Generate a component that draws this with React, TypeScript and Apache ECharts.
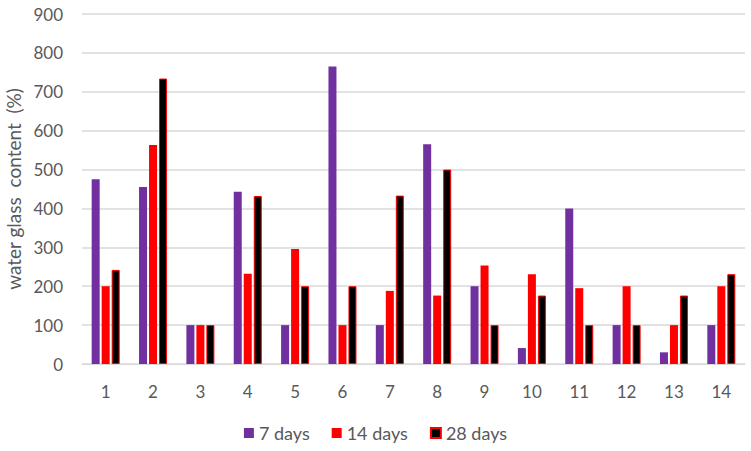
import React, { useEffect, useRef } from "react";
import * as echarts from "echarts";

const categories = ["1", "2", "3", "4", "5", "6", "7", "8", "9", "10", "11", "12", "13", "14"];
const days7 = [475, 455, 100, 443, 100, 765, 100, 565, 200, 41, 400, 100, 30, 100];
const days14 = [200, 563, 100, 232, 296, 100, 188, 176, 253, 231, 195, 200, 100, 200];
const days28 = [242, 734, 100, 432, 200, 200, 433, 500, 100, 176, 100, 100, 176, 231];
const seriesNames = ["7 days", "14 days", "28 days"];

export default function App() {
  const ref = useRef<HTMLDivElement>(null);
  useEffect(() => {
    if (!ref.current) return;
    const chart = echarts.init(ref.current, null, { renderer: "svg" });
    const font = "Lato, 'Open Sans', sans-serif";
    const txt = "#595959";
    chart.setOption({
      animation: false,
      backgroundColor: "#ffffff",
      textStyle: { fontFamily: font },
      grid: {
        left: 82,
        right: 6,
        top: 14,
        bottom: 87,
        containLabel: false,
        outerBoundsMode: "none",
      },
      legend: {
        bottom: 4,
        left: "center",
        itemWidth: 10,
        itemHeight: 10,
        itemGap: 22,
        icon: "rect",
        textStyle: { fontSize: 18, color: txt, fontFamily: font },
        data: seriesNames,
      },
      xAxis: {
        type: "category",
        data: categories,
        axisTick: { show: false },
        axisLine: { lineStyle: { color: "#d9d9d9", width: 1 } },
        axisLabel: { fontSize: 17, color: txt, margin: 19, fontFamily: font },
      },
      yAxis: {
        type: "value",
        min: 0,
        max: 900,
        interval: 100,
        name: "water glass  content  (%)",
        nameLocation: "middle",
        nameGap: 57,
        nameTextStyle: { fontSize: 19, color: txt, fontFamily: font },
        axisLabel: { fontSize: 17, color: txt, margin: 19, fontFamily: font },
        splitLine: { lineStyle: { color: "#d9d9d9", width: 1.5 } },
        axisLine: { show: false },
        axisTick: { show: false },
      },
      series: [
        {
          name: seriesNames[0],
          type: "bar",
          data: days7,
          barWidth: 8,
          barGap: "25%",
          itemStyle: { color: "#7030A0" },
        },
        {
          name: seriesNames[1],
          type: "bar",
          data: days14,
          barWidth: 8,
          barGap: "25%",
          itemStyle: { color: "#FF0000" },
        },
        {
          name: seriesNames[2],
          type: "bar",
          data: days28,
          barWidth: 8,
          barGap: "25%",
          itemStyle: { color: "#000000", borderColor: "#FF0000", borderWidth: 1 },
        },
      ],
    });
    return () => chart.dispose();
  }, []);
  return (
    <div
      ref={ref}
      style={{ position: "absolute", left: 0, top: 0, width: 751, height: 451 }}
    />
  );
}
